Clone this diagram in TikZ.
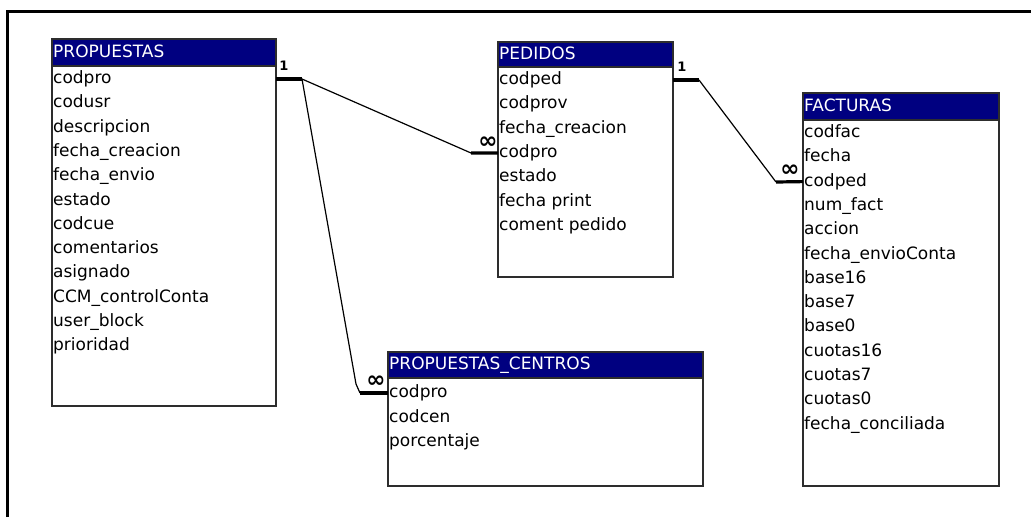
\documentclass[tikz,border=0pt]{standalone}
\usepackage{fontspec}
\setmainfont{DejaVu Sans}
\definecolor{navy}{RGB}{0,0,128}
\definecolor{boxgray}{RGB}{45,45,45}
\newcommand\fsz{\fontsize{17}{20}\selectfont}
\newcommand\mktable[7]{% name, x, y, width, header h, total h, title
  \node[tbl, minimum width=#4pt, minimum height=#6pt] (#1) at (#2,#3) {};
  \node[hdr, minimum width=#4pt, minimum height=#5pt] (#1-h) at (#2,#3) {};
  \node[ttl] (#1-t) at (#2+1,#3+#5/2) {#7};
}
\tikzset{
  tbl/.style={draw=boxgray, line width=1.3pt, fill=white, anchor=north west, inner sep=0pt, outer sep=0pt},
  hdr/.style={fill=navy, draw=boxgray, line width=1.3pt, anchor=north west, inner sep=0pt, outer sep=0pt},
  fld/.style={anchor=west, inner sep=0pt, font=\fsz, text height=12.5pt, text depth=3.5pt},
  ttl/.style={anchor=west, inner sep=0pt, text=white, font=\fsz, text height=12.5pt, text depth=3.5pt},
  rel/.style={line width=1.2pt},
  relend/.style={line width=3.2pt, line cap=butt},
  one/.style={inner sep=0pt, font=\bfseries\fontsize{13}{13}\selectfont},
  many/.style={inner sep=0pt, font=\bfseries\fontsize{23}{23}\selectfont}
}
\begin{document}
\begin{tikzpicture}[x=1pt,y=-1pt]
\useasboundingbox (0,0) rectangle (1031,517);
% outer frame
\draw[line width=3pt] (7.5,517) -- (7.5,11) -- (1031,11);

% PROPUESTAS
\mktable{PR}{52}{39}{224}{27}{367}{PROPUESTAS}
\foreach \t [count=\i] in {codpro,codusr,descripcion,fecha\_creacion,fecha\_envio,estado,codcue,comentarios,asignado,CCM\_controlConta,user\_block,prioridad}
  \node[fld] (PR-\i) at (53,79+24.3*\i-24.3) {\t};

% PEDIDOS
\mktable{PE}{498}{42}{175}{25}{235}{PEDIDOS}
\foreach \t [count=\i] in {codped,codprov,fecha\_creacion,codpro,estado,fecha print,coment pedido}
  \node[fld] (PE-\i) at (499,80+24.3*\i-24.3) {\t};

% FACTURAS
\mktable{FA}{803}{93}{196}{27}{393}{FACTURAS}
\foreach \t [count=\i] in {codfac,fecha,codped,num\_fact,accion,fecha\_envioConta,base16,base7,base0,cuotas16,cuotas7,cuotas0,fecha\_conciliada}
  \node[fld] (FA-\i) at (804,133+24.3*\i-24.3) {\t};

% PROPUESTAS_CENTROS
\mktable{PC}{388}{352}{315}{26}{134}{PROPUESTAS\_CENTROS}
\foreach \t [count=\i] in {codpro,codcen,porcentaje}
  \node[fld] (PC-\i) at (389,393+24.6*\i-24.6) {\t};

% relationships
\coordinate (a1) at (302,79);
\coordinate (a2) at (471,153);
\coordinate (c2) at (356,384);
\coordinate (c3) at (360,393);
\coordinate (d1) at (699,80);
\coordinate (d2) at (776,182);

\draw[relend] (PR.east |- PR-1) -- (a1);
\draw[rel] (a1) -- (a2);
\draw[relend] (a2) -- (PE.west |- PE-4);
\draw[rel] (a1) -- (c2) -- (c3);
\draw[relend] (c3) -- (PC.west |- PC-1);
\draw[relend] (PE.east |- PE-1) -- (d1);
\draw[rel] (d1) -- (d2);
\draw[relend] (d2) -- (FA.west |- FA-3);

\node[one] (n1) at (284,66) {1};
\node[many] (m1) at (488,143) {∞};
\node[many] (m2) at (376,382) {∞};
\node[one] (n2) at (682,67) {1};
\node[many] (m3) at (790,171) {∞};
\end{tikzpicture}
\end{document}
